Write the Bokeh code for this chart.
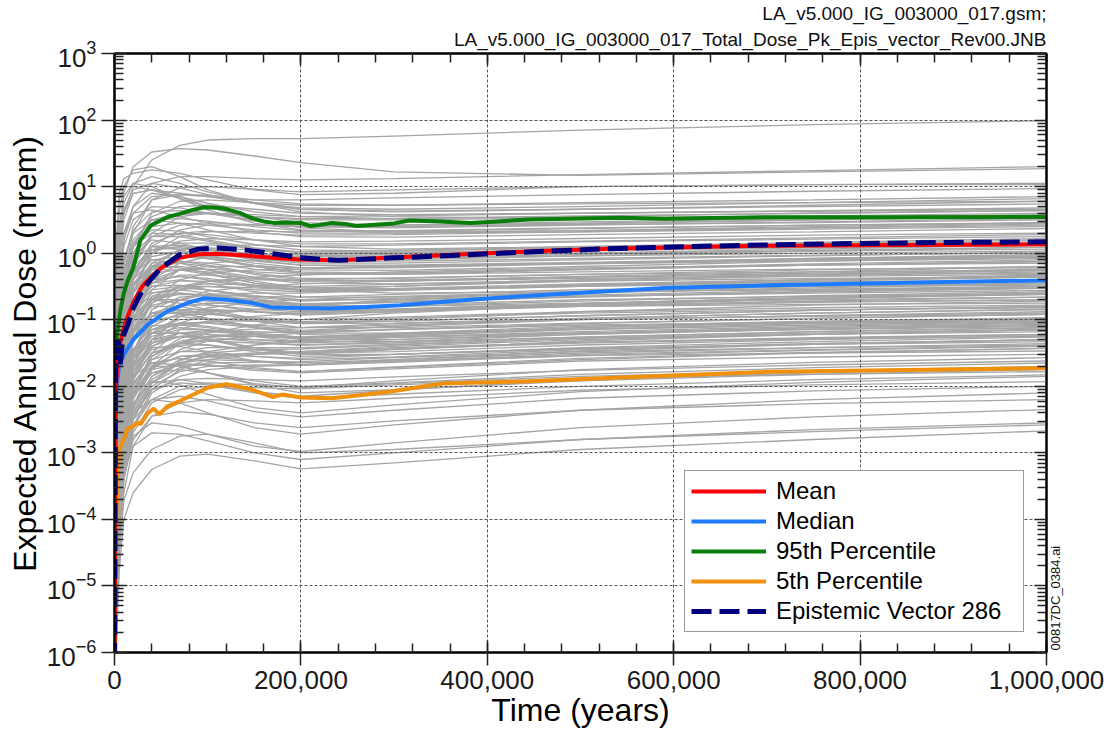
import math

from bokeh.plotting import figure
from bokeh.models import (Range1d, LinearAxis, LogAxis, FixedTicker, NumeralTickFormatter,
                          CustomJSTickFormatter, Legend, LegendItem, Title)
from bokeh.embed import file_html
from bokeh.resources import INLINE

FONT = "Liberation Sans"

# ---------------------------------------------------------------------------
# Individual realizations (log10 of expected annual dose, mrem)
# sampled at REAL_TIMES; every curve starts from REAL_START_LOG10 at t = 0
# ---------------------------------------------------------------------------
REAL_TIMES = [2000, 5000, 10000, 20000, 40000, 70000, 100000, 150000,
              200000, 300000, 500000, 750000, 1000000]
REAL_START_LOG10 = -7.0
REALIZATIONS_LOG10 = [
    # upper tail
    [-1.0, 0.0, 0.6, 1.0, 1.4, 1.62, 1.7, 1.72, 1.72, 1.76, 1.85, 1.93, 1.99],
    [-0.6, 0.3, 0.9, 1.3, 1.52, 1.57, 1.55, 1.46, 1.36, 1.22, 1.17, 1.22, 1.27],
    [-1.4, -0.5, 0.2, 0.7, 1.05, 1.15, 1.15, 1.12, 1.1, 1.12, 1.18, 1.24, 1.3],
    [0.2, 0.9, 1.12, 1.2, 1.25, 1.2, 1.1, 0.95, 0.88, 0.9, 1.0, 1.03, 1.05],
    [-2.0, -1.0, -0.3, 0.3, 0.8, 0.98, 1.0, 0.96, 0.92, 0.95, 1.0, 1.03, 1.03],
    [-0.3, 0.6, 1.0, 1.25, 1.3, 1.15, 0.95, 0.75, 0.62, 0.55, 0.52, 0.55, 0.58],
    [-1.2, -0.2, 0.5, 0.9, 0.95, 0.9, 0.85, 0.8, 0.8, 0.83, 0.88, 0.93, 0.97],
    [0.0, 0.8, 1.0, 1.0, 0.95, 0.85, 0.75, 0.62, 0.55, 0.52, 0.55, 0.6, 0.64],
    [-1.8, -0.9, -0.2, 0.4, 0.8, 0.88, 0.87, 0.8, 0.74, 0.72, 0.76, 0.8, 0.85],
    [-0.8, 0.2, 0.75, 1.05, 1.15, 1.05, 0.92, 0.76, 0.66, 0.62, 0.66, 0.72, 0.78],
    [-2.5, -1.4, -0.6, 0.1, 0.6, 0.78, 0.8, 0.76, 0.72, 0.72, 0.74, 0.76, 0.78],
    [-1.5, -0.6, 0.2, 0.6, 0.85, 0.88, 0.85, 0.75, 0.66, 0.63, 0.66, 0.7, 0.74],
    [-0.9, 0.1, 0.65, 0.95, 1.05, 0.98, 0.88, 0.75, 0.68, 0.66, 0.7, 0.76, 0.82],
    # upper band
    [-2.2, -1.2, -0.5, 0.1, 0.55, 0.7, 0.72, 0.66, 0.6, 0.58, 0.6, 0.64, 0.68],
    [-3.0, -1.8, -0.9, -0.2, 0.3, 0.55, 0.6, 0.58, 0.55, 0.56, 0.6, 0.63, 0.66],
    [-1.0, 0.0, 0.6, 0.9, 0.95, 0.82, 0.7, 0.55, 0.46, 0.42, 0.45, 0.5, 0.55],
    [-2.6, -1.5, -0.7, 0.0, 0.45, 0.58, 0.6, 0.55, 0.5, 0.5, 0.53, 0.56, 0.6],
    [-3.2, -2.0, -1.1, -0.4, 0.1, 0.35, 0.42, 0.42, 0.4, 0.42, 0.47, 0.52, 0.56],
    [-1.6, -0.6, 0.1, 0.5, 0.7, 0.68, 0.6, 0.48, 0.4, 0.38, 0.42, 0.47, 0.52],
    [-2.8, -1.6, -0.8, -0.2, 0.25, 0.42, 0.46, 0.43, 0.4, 0.4, 0.43, 0.46, 0.5],
    [-2.0, -1.0, -0.3, 0.2, 0.5, 0.52, 0.48, 0.4, 0.34, 0.33, 0.37, 0.42, 0.46],
    [-3.5, -2.3, -1.4, -0.6, 0.0, 0.25, 0.32, 0.33, 0.32, 0.34, 0.38, 0.42, 0.45],
    [-2.4, -1.3, -0.5, 0.1, 0.4, 0.45, 0.42, 0.35, 0.3, 0.3, 0.34, 0.38, 0.42],
    [-3.0, -1.9, -1.0, -0.3, 0.15, 0.3, 0.33, 0.3, 0.27, 0.28, 0.32, 0.36, 0.4],
    [-1.3, -0.3, 0.3, 0.6, 0.65, 0.55, 0.45, 0.32, 0.25, 0.24, 0.28, 0.32, 0.37],
    [-1.2, -0.3, 0.3, 0.7, 0.9, 0.85, 0.7, 0.5, 0.38, 0.32, 0.34, 0.4, 0.46],
    [-0.5, 0.4, 0.85, 1.05, 1.0, 0.82, 0.65, 0.45, 0.35, 0.3, 0.32, 0.38, 0.44],
    [-2.1, -1.1, -0.4, 0.15, 0.5, 0.6, 0.6, 0.55, 0.52, 0.52, 0.56, 0.6, 0.64],
    [-1.7, -0.8, -0.1, 0.35, 0.62, 0.64, 0.6, 0.5, 0.42, 0.4, 0.44, 0.5, 0.55],
    # middle-upper
    [-3.3, -2.1, -1.2, -0.5, 0.0, 0.18, 0.22, 0.2, 0.17, 0.18, 0.22, 0.27, 0.3],
    [-2.6, -1.5, -0.7, -0.1, 0.25, 0.3, 0.28, 0.2, 0.14, 0.14, 0.18, 0.23, 0.28],
    [-3.8, -2.5, -1.6, -0.8, -0.2, 0.05, 0.12, 0.12, 0.1, 0.12, 0.17, 0.21, 0.25],
    [-2.2, -1.2, -0.4, 0.1, 0.35, 0.33, 0.25, 0.13, 0.05, 0.03, 0.08, 0.14, 0.2],
    [-3.5, -2.3, -1.4, -0.7, -0.15, 0.05, 0.08, 0.05, 0.02, 0.04, 0.09, 0.13, 0.17],
    [-3.0, -1.9, -1.0, -0.4, 0.05, 0.15, 0.15, 0.08, 0.02, 0.01, 0.05, 0.1, 0.14],
    [-4.0, -2.8, -1.8, -1.0, -0.4, -0.15, -0.05, -0.02, -0.02, 0.0, 0.05, 0.08, 0.12],
    [-2.8, -1.7, -0.9, -0.3, 0.1, 0.12, 0.08, -0.02, -0.08, -0.07, -0.02, 0.04, 0.09],
    [-3.6, -2.4, -1.5, -0.8, -0.25, -0.05, 0.0, -0.02, -0.05, -0.04, 0.0, 0.03, 0.06],
    [-2.4, -1.4, -0.6, -0.05, 0.2, 0.15, 0.05, -0.08, -0.15, -0.15, -0.1, -0.04, 0.02],
    [-4.2, -3.0, -2.0, -1.2, -0.55, -0.25, -0.15, -0.1, -0.1, -0.08, -0.04, 0.0, 0.03],
    [-3.1, -2.0, -1.1, -0.5, -0.05, 0.02, 0.0, -0.08, -0.13, -0.12, -0.08, -0.03, 0.0],
    [-1.6, -0.7, -0.1, 0.3, 0.5, 0.45, 0.35, 0.2, 0.1, 0.06, 0.1, 0.16, 0.22],
    [-1.8, -0.9, -0.3, 0.1, 0.3, 0.28, 0.2, 0.08, 0.0, -0.02, 0.03, 0.09, 0.15],
    [-2.0, -1.1, -0.45, 0.0, 0.25, 0.25, 0.18, 0.05, -0.03, -0.05, 0.0, 0.06, 0.12],
    [-2.2, -1.3, -0.7, -0.25, 0.05, 0.1, 0.06, -0.04, -0.1, -0.1, -0.04, 0.03, 0.09],
    [-2.1, -1.2, -0.6, -0.2, 0.05, 0.08, 0.02, -0.1, -0.18, -0.2, -0.15, -0.08, -0.02],
    # middle
    [-3.4, -2.2, -1.3, -0.7, -0.2, -0.05, -0.05, -0.12, -0.18, -0.18, -0.14, -0.08, -0.04],
    [-4.4, -3.1, -2.1, -1.3, -0.7, -0.4, -0.3, -0.25, -0.24, -0.2, -0.15, -0.1, -0.06],
    [-2.7, -1.7, -0.9, -0.35, 0.0, 0.0, -0.08, -0.2, -0.28, -0.3, -0.24, -0.16, -0.1],
    [-3.9, -2.7, -1.7, -1.0, -0.45, -0.25, -0.2, -0.2, -0.22, -0.2, -0.16, -0.12, -0.08],
    [-3.2, -2.1, -1.2, -0.6, -0.2, -0.12, -0.15, -0.24, -0.3, -0.3, -0.24, -0.18, -0.13],
    [-4.6, -3.3, -2.3, -1.5, -0.85, -0.55, -0.42, -0.36, -0.33, -0.28, -0.22, -0.18, -0.15],
    [-3.0, -1.9, -1.0, -0.5, -0.15, -0.12, -0.18, -0.3, -0.38, -0.38, -0.32, -0.25, -0.2],
    [-3.7, -2.5, -1.6, -0.9, -0.4, -0.25, -0.24, -0.28, -0.32, -0.32, -0.28, -0.24, -0.22],
    [-4.2, -3.0, -2.0, -1.3, -0.75, -0.5, -0.42, -0.4, -0.4, -0.37, -0.32, -0.28, -0.25],
    [-2.9, -1.9, -1.1, -0.55, -0.25, -0.25, -0.32, -0.45, -0.52, -0.5, -0.42, -0.34, -0.28],
    [-3.5, -2.4, -1.5, -0.9, -0.45, -0.33, -0.33, -0.38, -0.42, -0.4, -0.36, -0.32, -0.3],
    [-4.8, -3.5, -2.5, -1.7, -1.05, -0.7, -0.57, -0.5, -0.46, -0.42, -0.38, -0.35, -0.32],
    [-3.3, -2.2, -1.3, -0.75, -0.4, -0.35, -0.4, -0.5, -0.55, -0.53, -0.46, -0.4, -0.35],
    [-4.0, -2.8, -1.9, -1.2, -0.7, -0.5, -0.46, -0.48, -0.5, -0.47, -0.42, -0.38, -0.36],
    [-3.8, -2.7, -1.8, -1.15, -0.65, -0.5, -0.5, -0.55, -0.58, -0.55, -0.48, -0.43, -0.4],
    [-4.5, -3.2, -2.2, -1.5, -0.95, -0.7, -0.62, -0.6, -0.6, -0.56, -0.5, -0.45, -0.42],
    [-3.1, -2.1, -1.3, -0.8, -0.5, -0.48, -0.55, -0.66, -0.72, -0.68, -0.58, -0.5, -0.45],
    [-4.1, -2.9, -2.0, -1.35, -0.85, -0.66, -0.63, -0.65, -0.66, -0.62, -0.55, -0.5, -0.48],
    [-5.0, -3.7, -2.7, -1.9, -1.3, -0.95, -0.82, -0.74, -0.7, -0.65, -0.58, -0.54, -0.5],
    [-3.6, -2.5, -1.6, -1.05, -0.68, -0.6, -0.63, -0.72, -0.78, -0.74, -0.65, -0.58, -0.53],
    [-4.3, -3.1, -2.2, -1.5, -1.0, -0.8, -0.75, -0.76, -0.77, -0.72, -0.65, -0.6, -0.56],
    [-3.4, -2.4, -1.5, -1.0, -0.7, -0.7, -0.77, -0.88, -0.93, -0.88, -0.76, -0.66, -0.6],
    [-4.7, -3.4, -2.4, -1.7, -1.2, -0.95, -0.88, -0.85, -0.83, -0.78, -0.7, -0.65, -0.62],
    [-3.9, -2.8, -1.9, -1.3, -0.9, -0.78, -0.78, -0.84, -0.88, -0.84, -0.76, -0.7, -0.66],
    [-4.4, -3.2, -2.3, -1.6, -1.1, -0.9, -0.86, -0.88, -0.9, -0.86, -0.78, -0.73, -0.7],
    [-3.2, -2.2, -1.4, -0.95, -0.7, -0.75, -0.85, -0.98, -1.05, -1.0, -0.88, -0.78, -0.72],
    [-5.2, -3.9, -2.9, -2.1, -1.5, -1.15, -1.02, -0.95, -0.9, -0.85, -0.8, -0.77, -0.75],
    [-4.0, -2.9, -2.0, -1.45, -1.05, -0.92, -0.92, -0.97, -1.0, -0.96, -0.88, -0.82, -0.78],
    [-4.6, -3.4, -2.5, -1.8, -1.3, -1.08, -1.02, -1.02, -1.03, -0.98, -0.9, -0.85, -0.82],
    [-3.5, -2.5, -1.7, -1.2, -0.9, -0.9, -0.98, -1.1, -1.16, -1.1, -0.98, -0.9, -0.85],
    [-2.0, -1.1, -0.5, -0.1, 0.1, 0.05, -0.05, -0.2, -0.3, -0.32, -0.25, -0.18, -0.12],
    [-3.6, -2.6, -1.8, -1.2, -0.75, -0.55, -0.5, -0.52, -0.55, -0.5, -0.4, -0.32, -0.26],
    [-4.5, -3.5, -2.6, -1.9, -1.35, -1.05, -0.92, -0.85, -0.8, -0.7, -0.58, -0.48, -0.4],
    [-2.5, -1.6, -0.9, -0.45, -0.2, -0.22, -0.3, -0.45, -0.55, -0.6, -0.58, -0.55, -0.52],
    [-3.0, -2.1, -1.4, -0.95, -0.65, -0.6, -0.65, -0.75, -0.82, -0.85, -0.8, -0.74, -0.7],
    [-5.0, -3.9, -3.0, -2.3, -1.7, -1.35, -1.2, -1.08, -1.0, -0.9, -0.78, -0.68, -0.6],
    [-2.2, -1.3, -0.7, -0.3, -0.1, -0.15, -0.25, -0.42, -0.52, -0.55, -0.5, -0.42, -0.36],
    [-3.3, -2.4, -1.7, -1.2, -0.9, -0.85, -0.9, -1.0, -1.06, -1.05, -0.98, -0.9, -0.84],
    [-2.8, -1.9, -1.2, -0.75, -0.45, -0.4, -0.45, -0.58, -0.66, -0.66, -0.6, -0.52, -0.46],
    [-2.6, -1.7, -1.0, -0.5, -0.2, -0.15, -0.2, -0.32, -0.4, -0.42, -0.36, -0.3, -0.24],
    [-2.4, -1.5, -0.85, -0.4, -0.1, -0.05, -0.08, -0.18, -0.25, -0.26, -0.2, -0.12, -0.06],
    [-2.9, -2.0, -1.3, -0.85, -0.55, -0.5, -0.55, -0.68, -0.78, -0.8, -0.75, -0.68, -0.62],
    [-2.7, -1.8, -1.15, -0.7, -0.4, -0.35, -0.38, -0.48, -0.55, -0.55, -0.48, -0.4, -0.34],
    [-2.3, -1.4, -0.75, -0.3, 0.0, 0.02, -0.04, -0.15, -0.22, -0.22, -0.16, -0.1, -0.04],
    [-3.0, -2.1, -1.4, -0.9, -0.6, -0.52, -0.55, -0.64, -0.7, -0.7, -0.63, -0.56, -0.5],
    [-3.3, -2.4, -1.7, -1.25, -0.95, -0.88, -0.9, -0.98, -1.04, -1.02, -0.94, -0.86, -0.8],
    [-2.6, -1.7, -1.05, -0.6, -0.3, -0.25, -0.28, -0.38, -0.45, -0.46, -0.4, -0.32, -0.26],
    [-3.9, -2.9, -2.1, -1.55, -1.15, -1.0, -0.98, -1.02, -1.06, -1.02, -0.94, -0.86, -0.8],
    [-3.1, -2.2, -1.5, -1.0, -0.7, -0.62, -0.63, -0.7, -0.76, -0.74, -0.66, -0.58, -0.52],
    [-2.9, -2.0, -1.35, -0.9, -0.6, -0.55, -0.6, -0.72, -0.8, -0.8, -0.72, -0.64, -0.58],
    [-2.5, -1.6, -0.95, -0.5, -0.22, -0.2, -0.25, -0.36, -0.42, -0.42, -0.35, -0.28, -0.2],
    [-3.4, -2.5, -1.8, -1.3, -0.95, -0.85, -0.84, -0.88, -0.92, -0.88, -0.8, -0.72, -0.66],
    [-2.8, -1.9, -1.25, -0.8, -0.5, -0.42, -0.42, -0.5, -0.56, -0.55, -0.48, -0.4, -0.33],
    [-3.2, -2.3, -1.6, -1.1, -0.78, -0.7, -0.72, -0.8, -0.86, -0.84, -0.76, -0.68, -0.62],
    # lower-middle
    [-4.2, -3.1, -2.2, -1.6, -1.2, -1.05, -1.04, -1.08, -1.12, -1.08, -1.0, -0.94, -0.9],
    [-5.0, -3.8, -2.8, -2.1, -1.55, -1.28, -1.18, -1.14, -1.12, -1.06, -0.99, -0.95, -0.92],
    [-3.8, -2.8, -2.0, -1.45, -1.1, -1.05, -1.1, -1.2, -1.26, -1.2, -1.1, -1.02, -0.97],
    [-4.5, -3.4, -2.5, -1.85, -1.4, -1.2, -1.16, -1.18, -1.2, -1.15, -1.08, -1.04, -1.0],
    [-5.4, -4.1, -3.1, -2.3, -1.75, -1.45, -1.32, -1.25, -1.2, -1.14, -1.08, -1.05, -1.03],
    [-4.1, -3.0, -2.2, -1.65, -1.3, -1.2, -1.22, -1.3, -1.35, -1.3, -1.2, -1.12, -1.07],
    [-4.8, -3.6, -2.7, -2.0, -1.55, -1.35, -1.3, -1.3, -1.32, -1.27, -1.2, -1.15, -1.1],
    [-3.6, -2.7, -1.9, -1.45, -1.2, -1.2, -1.3, -1.45, -1.52, -1.45, -1.32, -1.22, -1.15],
    [-5.1, -3.9, -2.9, -2.2, -1.7, -1.48, -1.42, -1.42, -1.42, -1.37, -1.28, -1.22, -1.18],
    [-4.4, -3.3, -2.4, -1.85, -1.5, -1.38, -1.38, -1.45, -1.5, -1.44, -1.34, -1.27, -1.22],
    [-5.6, -4.3, -3.3, -2.5, -1.95, -1.65, -1.54, -1.5, -1.48, -1.42, -1.34, -1.29, -1.25],
    [-4.0, -3.0, -2.2, -1.7, -1.42, -1.4, -1.48, -1.62, -1.68, -1.6, -1.47, -1.37, -1.3],
    [-4.9, -3.7, -2.8, -2.15, -1.72, -1.55, -1.52, -1.55, -1.58, -1.52, -1.43, -1.37, -1.33],
    [-5.3, -4.1, -3.1, -2.4, -1.95, -1.72, -1.65, -1.64, -1.63, -1.57, -1.48, -1.42, -1.38],
    [-4.3, -3.3, -2.5, -1.95, -1.65, -1.58, -1.62, -1.72, -1.78, -1.71, -1.58, -1.49, -1.43],
    [-5.7, -4.4, -3.4, -2.65, -2.1, -1.85, -1.75, -1.7, -1.68, -1.62, -1.54, -1.5, -1.47],
    [-4.6, -3.5, -2.7, -2.1, -1.75, -1.66, -1.68, -1.76, -1.8, -1.74, -1.62, -1.56, -1.52],
    [-3.9, -3.0, -2.3, -1.85, -1.65, -1.68, -1.8, -1.96, -2.02, -1.92, -1.75, -1.64, -1.57],
    [-4.8, -3.7, -2.8, -2.1, -1.6, -1.35, -1.25, -1.2, -1.18, -1.1, -1.0, -0.94, -0.88],
    [-3.1, -2.2, -1.5, -1.05, -0.8, -0.8, -0.88, -1.02, -1.12, -1.12, -1.05, -0.98, -0.92],
    [-4.2, -3.2, -2.4, -1.8, -1.4, -1.25, -1.22, -1.25, -1.28, -1.24, -1.14, -1.06, -1.0],
    [-3.7, -2.8, -2.0, -1.5, -1.15, -1.08, -1.12, -1.22, -1.3, -1.3, -1.22, -1.14, -1.08],
    [-5.3, -4.2, -3.2, -2.5, -1.95, -1.62, -1.48, -1.38, -1.32, -1.24, -1.15, -1.08, -1.02],
    [-3.4, -2.5, -1.8, -1.3, -1.0, -0.95, -1.0, -1.12, -1.2, -1.2, -1.14, -1.08, -1.02],
    [-4.6, -3.6, -2.7, -2.05, -1.55, -1.32, -1.25, -1.25, -1.27, -1.22, -1.12, -1.04, -0.98],
    [-3.9, -3.0, -2.3, -1.8, -1.45, -1.35, -1.38, -1.48, -1.55, -1.52, -1.42, -1.33, -1.26],
    [-5.5, -4.4, -3.4, -2.6, -2.05, -1.75, -1.6, -1.52, -1.48, -1.4, -1.3, -1.22, -1.15],
    [-3.2, -2.3, -1.6, -1.15, -0.9, -0.9, -0.98, -1.12, -1.22, -1.25, -1.2, -1.12, -1.05],
    [-4.3, -3.3, -2.5, -1.95, -1.6, -1.48, -1.48, -1.55, -1.6, -1.56, -1.45, -1.36, -1.3],
    [-3.5, -2.6, -1.9, -1.45, -1.2, -1.2, -1.28, -1.42, -1.52, -1.52, -1.44, -1.36, -1.3],
    [-4.9, -3.9, -3.0, -2.35, -1.85, -1.6, -1.5, -1.45, -1.44, -1.38, -1.28, -1.2, -1.14],
    [-3.8, -2.9, -2.1, -1.6, -1.25, -1.15, -1.15, -1.22, -1.28, -1.26, -1.18, -1.1, -1.04],
    [-4.4, -3.5, -2.7, -2.15, -1.8, -1.68, -1.68, -1.74, -1.78, -1.72, -1.6, -1.5, -1.43],
    [-5.1, -4.0, -3.1, -2.4, -1.9, -1.65, -1.56, -1.52, -1.5, -1.44, -1.35, -1.28, -1.22],
    [-3.6, -2.7, -2.0, -1.5, -1.2, -1.12, -1.15, -1.25, -1.33, -1.33, -1.26, -1.18, -1.12],
    [-4.1, -3.1, -2.3, -1.75, -1.35, -1.2, -1.18, -1.22, -1.26, -1.22, -1.12, -1.04, -0.98],
    [-4.7, -3.7, -2.9, -2.3, -1.85, -1.65, -1.6, -1.62, -1.65, -1.6, -1.5, -1.42, -1.36],
    [-4.5, -3.5, -2.7, -2.1, -1.7, -1.55, -1.55, -1.62, -1.68, -1.64, -1.54, -1.46, -1.4],
    [-3.7, -2.8, -2.1, -1.6, -1.3, -1.25, -1.3, -1.42, -1.5, -1.48, -1.38, -1.3, -1.24],
    [-4.0, -3.0, -2.2, -1.7, -1.35, -1.25, -1.26, -1.33, -1.38, -1.35, -1.26, -1.18, -1.12],
    [-5.2, -4.1, -3.2, -2.5, -2.0, -1.78, -1.7, -1.68, -1.68, -1.62, -1.52, -1.45, -1.39],
    [-4.3, -3.3, -2.5, -1.9, -1.5, -1.35, -1.32, -1.35, -1.38, -1.33, -1.22, -1.14, -1.08],
    [-3.6, -2.7, -2.0, -1.5, -1.15, -1.05, -1.05, -1.12, -1.18, -1.15, -1.06, -0.98, -0.92],
    # lower tail
    [-4.2, -3.3, -2.6, -2.1, -1.8, -1.75, -1.8, -1.92, -2.0, -1.95, -1.82, -1.72, -1.65],
    [-5.0, -4.0, -3.2, -2.6, -2.2, -2.0, -1.95, -1.98, -2.02, -1.96, -1.85, -1.77, -1.7],
    [-3.8, -3.0, -2.35, -1.95, -1.7, -1.7, -1.8, -1.98, -2.1, -2.05, -1.92, -1.82, -1.75],
    [-4.6, -3.7, -2.95, -2.4, -2.05, -1.95, -1.98, -2.1, -2.18, -2.12, -2.0, -1.9, -1.83],
    [-5.2, -4.0, -3.1, -2.45, -2.05, -1.9, -1.88, -1.9, -1.92, -1.86, -1.76, -1.68, -1.62],
    [-4.6, -3.6, -2.8, -2.25, -1.95, -1.9, -1.96, -2.08, -2.15, -2.06, -1.9, -1.8, -1.72],
    [-5.5, -4.3, -3.4, -2.7, -2.25, -2.05, -2.0, -2.02, -2.04, -1.98, -1.88, -1.82, -1.78],
    [-4.1, -3.2, -2.5, -2.1, -1.92, -1.98, -2.12, -2.32, -2.4, -2.28, -2.08, -1.94, -1.85],
    [-5.8, -4.6, -3.6, -2.9, -2.45, -2.25, -2.2, -2.22, -2.25, -2.18, -2.06, -1.98, -1.93],
    [-4.8, -3.8, -3.0, -2.5, -2.2, -2.15, -2.22, -2.38, -2.46, -2.36, -2.18, -2.07, -2.0],
    [-4.4, -3.5, -2.8, -2.4, -2.2, -2.25, -2.4, -2.62, -2.72, -2.58, -2.36, -2.2, -2.1],
    [-5.4, -4.3, -3.4, -2.8, -2.45, -2.38, -2.42, -2.55, -2.62, -2.52, -2.36, -2.26, -2.2],
    [-4.9, -4.0, -3.2, -2.75, -2.55, -2.6, -2.72, -2.9, -2.98, -2.85, -2.62, -2.46, -2.35],
    [-5.5, -4.5, -3.72, -3.3, -2.95, -2.75, -2.72, -2.85, -3.0, -2.95, -2.8, -2.68, -2.58],
    [-5.9, -4.8, -4.0, -3.6, -3.25, -3.05, -3.02, -3.12, -3.24, -3.15, -2.95, -2.8, -2.67],
    [-5.0, -4.0, -3.3, -2.9, -2.7, -2.72, -2.82, -3.0, -3.1, -3.0, -2.8, -2.65, -2.55],
]

# ---------------------------------------------------------------------------
# Summary statistics over the realizations (mrem)
# ---------------------------------------------------------------------------
MEAN_T = [0, 1000, 2000, 3000, 5000, 7000, 10000, 15000, 20000, 30000, 40000, 50000,
          70000, 90000, 110000, 140000, 170000, 200000, 240000, 300000, 380000,
          450000, 540000, 620000, 700000, 800000, 900000, 1000000]
MEAN = [1e-7, 3e-3, 0.012, 0.022, 0.035, 0.05, 0.075, 0.12, 0.18, 0.32, 0.45, 0.6,
        0.85, 0.96, 0.98, 0.92, 0.85, 0.8, 0.78, 0.86, 0.97, 1.07, 1.18, 1.24,
        1.29, 1.32, 1.34, 1.36]

MEDIAN_T = [0, 1000, 2000, 3000, 5000, 10000, 20000, 36000, 57000, 79000, 96000,
            120000, 146000, 170000, 200000, 233000, 270000, 307000, 350000, 382000,
            468000, 543000, 590000, 704000, 850000, 1000000]
MEDIAN = [1e-7, 2e-3, 0.008, 0.012, 0.02, 0.03, 0.05, 0.085, 0.135, 0.18, 0.21,
          0.2, 0.18, 0.152, 0.15, 0.148, 0.155, 0.165, 0.185, 0.2, 0.24, 0.275,
          0.3, 0.33, 0.36, 0.39]

P95_T = [0, 1000, 2000, 4000, 6000, 10000, 14000, 20000, 28000, 39000, 57000,
         70000, 82000, 96000, 110000, 120000, 135000, 146000, 160000, 171000,
         185000, 200000, 210000, 220000, 233000, 248000, 260000, 283000, 300000,
         316000, 350000, 382000, 445000, 543000, 590000, 704000, 850000, 1000000]
P95 = [1e-7, 0.02, 0.05, 0.08, 0.13, 0.25, 0.38, 0.6, 1.6, 2.6, 3.5, 3.9, 4.4,
       4.9, 4.8, 4.6, 4.0, 3.4, 3.0, 2.85, 2.9, 2.85, 2.55, 2.65, 2.85, 2.75,
       2.55, 2.7, 2.8, 3.1, 3.0, 2.85, 3.2, 3.4, 3.3, 3.47, 3.45, 3.5]

P5_T = [0, 1000, 2000, 3000, 4600, 6000, 10000, 14000, 20000, 24000, 28000, 36000,
        42000, 48000, 57000, 70000, 82000, 100000, 120000, 146000, 170000, 180000,
        200000, 233000, 270000, 300000, 352000, 445000, 543000, 704000, 850000, 1000000]
P5 = [1e-7, 1e-5, 1e-4, 3e-4, 8.5e-4, 1.2e-3, 1.6e-3, 2.3e-3, 2.5e-3, 2.85e-3,
      2.7e-3, 4.0e-3, 4.6e-3, 3.8e-3, 5.0e-3, 6.0e-3, 7.2e-3, 9.5e-3, 0.0107,
      9.0e-3, 6.9e-3, 7.5e-3, 6.8e-3, 6.6e-3, 7.5e-3, 8.5e-3, 0.011, 0.0119,
      0.0135, 0.0166, 0.0176, 0.0188]

# Epistemic vector 286
EV_T = [0, 1000, 2000, 3000, 4000, 5000, 6000, 8000, 10000, 15000, 20000, 30000,
        40000, 50000, 70000, 90000, 110000, 140000, 170000, 200000, 240000, 300000,
        360000, 450000, 540000, 620000, 700000, 800000, 900000, 1000000]
EV = [1e-7, 0.02, 0.05, 0.025, 0.05, 0.03, 0.02, 0.04, 0.06, 0.09, 0.15, 0.28,
      0.42, 0.6, 0.95, 1.15, 1.2, 1.12, 0.98, 0.85, 0.78, 0.85, 0.92, 1.05, 1.18,
      1.26, 1.33, 1.4, 1.45, 1.48]

X_TICKS = [0, 200000, 400000, 600000, 800000, 1000000]
X_MINOR = [i * 40000 for i in range(26)]
Y_TICKS = [10.0 ** k for k in range(-6, 4)]
Y_MINOR = [m * 10.0 ** k for k in range(-6, 3) for m in range(2, 10)]

HEADER_1 = "LA_v5.000_IG_003000_017.gsm;"
HEADER_2 = "LA_v5.000_IG_003000_017_Total_Dose_Pk_Epis_vector_Rev00.JNB"
FILE_TAG = "00817DC_0384.ai"
FILE_TAG_AT = 1.07e-6   # dose level where the vertical file tag begins

p = figure(width=1110, height=735,
           x_range=Range1d(0, 1000000), y_range=Range1d(1e-6, 1e3),
           y_axis_type="log", output_backend="svg", toolbar_location=None,
           min_border_left=114, min_border_right=64, min_border_top=52,
           min_border_bottom=83)
p.background_fill_color = "white"
p.border_fill_color = "white"
p.outline_line_color = "black"
p.outline_line_width = 2

# realization curves (drawn beneath the grid)
xs, ys = [], []
for curve in REALIZATIONS_LOG10:
    xs.append([0] + REAL_TIMES)
    ys.append([10.0 ** REAL_START_LOG10] + [10.0 ** v for v in curve])
gray = p.multi_line(xs, ys, line_color="#a5a5a5", line_width=1.3)
gray.level = "image"

r_med = p.line(MEDIAN_T, MEDIAN, line_color="#1e7bff", line_width=4)
r_p5 = p.line(P5_T, P5, line_color="#f0900c", line_width=4)
r_p95 = p.line(P95_T, P95, line_color="#0a7d0a", line_width=4)
r_mean = p.line(MEAN_T, MEAN, line_color="#ff0000", line_width=4)
r_ev = p.line(EV_T, EV, line_color="#00007f", line_width=5, line_dash="20 8")

# axes
xa = p.xaxis[0]
xa.ticker = FixedTicker(ticks=X_TICKS, minor_ticks=X_MINOR)
xa.formatter = NumeralTickFormatter(format="0,0")
xa.axis_label = "Time (years)"
ya = p.yaxis[0]
ya.ticker = FixedTicker(ticks=Y_TICKS, minor_ticks=Y_MINOR)
ya.axis_label = "Expected Annual Dose (mrem)"

for ax in (xa, ya):
    ax.axis_line_width = 2
    ax.axis_line_color = "black"
    ax.major_tick_in = 12
    ax.major_tick_out = 13
    ax.minor_tick_in = 9
    ax.minor_tick_out = 0
    ax.major_tick_line_width = 1.5
    ax.minor_tick_line_width = 1.5
    ax.major_tick_line_color = "#222222"
    ax.minor_tick_line_color = "#222222"
    ax.major_label_text_font = FONT
    ax.major_label_text_font_size = "26px"
    ax.major_label_text_color = "#1a1a1a"
    ax.axis_label_text_font = FONT
    ax.axis_label_text_font_size = "32px"
    ax.axis_label_text_font_style = "normal"
    ax.axis_label_text_color = "black"
xa.major_label_standoff = 5
xa.axis_label_standoff = 0
ya.major_label_standoff = 5
ya.axis_label_standoff = 1

blank = CustomJSTickFormatter(code="return ''")
top = LinearAxis(ticker=FixedTicker(ticks=X_TICKS, minor_ticks=X_MINOR), formatter=blank)
right = LogAxis(ticker=FixedTicker(ticks=Y_TICKS, minor_ticks=Y_MINOR), formatter=blank)
for ax in (top, right):
    ax.axis_line_width = 2
    ax.major_tick_in = 12
    ax.major_tick_out = 0
    ax.minor_tick_in = 9
    ax.minor_tick_out = 0
    ax.major_tick_line_width = 1.5
    ax.minor_tick_line_width = 1.5
    ax.major_tick_line_color = "#222222"
    ax.minor_tick_line_color = "#222222"
    ax.major_label_text_font_size = "0px"
    ax.major_label_standoff = 0
p.add_layout(top, "above")
p.add_layout(right, "right")

# vertical drawing-file tag just outside the right frame edge
tag_axis = LogAxis(ticker=FixedTicker(ticks=[FILE_TAG_AT], minor_ticks=[]),
                   formatter=CustomJSTickFormatter(args=dict(tag=FILE_TAG), code="return tag"))
tag_axis.axis_line_color = None
tag_axis.major_tick_line_color = None
tag_axis.minor_tick_line_color = None
tag_axis.major_tick_in = 0
tag_axis.major_tick_out = 0
tag_axis.minor_tick_in = 0
tag_axis.minor_tick_out = 0
tag_axis.major_label_orientation = math.pi / 2
tag_axis.major_label_standoff = 9
tag_axis.major_label_text_font = FONT
tag_axis.major_label_text_font_size = "13px"
tag_axis.major_label_text_color = "#111111"
p.add_layout(tag_axis, "right")

# file header, right aligned above the frame (second line nearest the frame)
for txt, gap in ((HEADER_2, 7), (HEADER_1, 0)):
    p.add_layout(Title(text=txt, align="right", text_font=FONT,
                       text_font_size="19px", text_font_style="normal",
                       text_color="#111111", standoff=gap, offset=0), "above")

for g in (p.xgrid[0], p.ygrid[0]):
    g.grid_line_color = "#555555"
    g.grid_line_width = 1
    g.grid_line_dash = "3 2"
p.xgrid[0].ticker = FixedTicker(ticks=X_TICKS)
p.ygrid[0].ticker = FixedTicker(ticks=Y_TICKS)

legend = Legend(items=[
    LegendItem(label="Mean", renderers=[r_mean]),
    LegendItem(label="Median", renderers=[r_med]),
    LegendItem(label="95th Percentile", renderers=[r_p95]),
    LegendItem(label="5th Percentile", renderers=[r_p5]),
    LegendItem(label="Epistemic Vector 286", renderers=[r_ev]),
], location=(570, 20))
legend.label_text_font = FONT
legend.label_text_font_size = "24px"
legend.label_text_color = "black"
legend.glyph_width = 75
legend.glyph_height = 24
legend.label_height = 24
legend.label_width = 241
legend.label_standoff = 10
legend.spacing = 2
legend.padding = 6
legend.margin = 0
legend.border_line_color = "#333333"
legend.border_line_width = 1
legend.background_fill_color = "white"
legend.background_fill_alpha = 1
p.add_layout(legend)

open("out.html", "w").write(file_html(p, INLINE))
